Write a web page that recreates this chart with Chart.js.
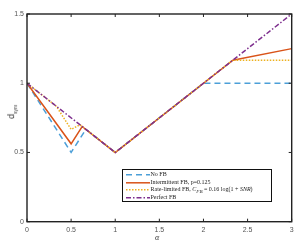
<!DOCTYPE html>
<html><head><meta charset="utf-8">
<script src="https://cdn.jsdelivr.net/npm/chart.js@4"></script>
<style>
html,body{margin:0;padding:0;background:#fff;}
#wrap{position:relative;width:302px;height:245px;}
canvas{position:absolute;left:0;top:0;}
#ylab{position:absolute;left:2px;top:106px;transform:rotate(-90deg);transform-origin:center;font:9px "Liberation Sans",Arial,sans-serif;color:#333;width:20px;text-align:center;}
#ylab sub{font-size:5px;}
#xlab{position:absolute;left:155px;top:233px;font:8px "Liberation Serif",serif;color:#333;font-style:italic;}
#legend{position:absolute;left:121.5px;top:169px;width:150px;height:33px;border:1.3px solid #111;background:#fff;font:6px "Liberation Serif","DejaVu Serif",serif;color:#222;box-sizing:border-box;padding-top:1px;}
#legend .row{height:7.6px;line-height:7.6px;white-space:nowrap;position:relative;}
#legend svg{position:absolute;left:2px;top:0;}
#legend span{position:absolute;left:28px;top:0;}
</style></head>
<body><div id="wrap"><canvas id="c" width="302" height="245"></canvas>
<div id="ylab">d<sub>sym</sub></div>
<div id="xlab">α</div>
<div id="legend"></div>
</div>
<script>
const xTicks = [0, 0.5, 1, 1.5, 2, 2.5, 3];
const yTicks = [0, 0.5, 1, 1.5];
const seriesNames = ["No FB", "Intermittent FB, p=0.125", "Rate-limited FB, <i>C<sub>FB</sub></i> = 0.16 log(1 + <i>SNR</i>)", "Perfect FB"];
const noFbX = [0, 0.5, 0.6667, 1, 2, 3];
const noFbY = [1, 0.5, 0.6667, 0.5, 1, 1];
const interX = [0, 0.5, 0.625, 1, 2, 2.333, 3];
const interY = [1, 0.5625, 0.6875, 0.5, 1, 1.1667, 1.25];
const rateX = [0, 0.333, 0.5, 0.6, 1, 2, 2.333, 3];
const rateY = [1, 0.8333, 0.6667, 0.7, 0.5, 1, 1.1667, 1.1667];
const perfX = [0, 1, 3];
const perfY = [1, 0.5, 1.5];
const colors = ["#4c9fd8", "#D95319", "#EDB120", "#7E2F8E"];
const dashes = [[6,4],[],[1.5,1.5],[5,2,1.5,2]];

function pts(xs, ys){ return xs.map((x,i)=>({x:x,y:ys[i]})); }
const dataSets = [pts(noFbX,noFbY), pts(interX,interY), pts(rateX,rateY), pts(perfX,perfY)];

const framePlugin = {
  id:'frame',
  afterDraw(chart){
    const ctx = chart.ctx, a = chart.chartArea, xs = chart.scales.x, ys = chart.scales.y;
    ctx.save();
    ctx.strokeStyle = '#222'; ctx.lineWidth = 1.4;
    ctx.strokeRect(a.left, a.top, a.right-a.left, a.bottom-a.top);
    ctx.lineWidth = 1;
    xTicks.forEach(v=>{
      const p = xs.getPixelForValue(v);
      ctx.beginPath(); ctx.moveTo(p,a.bottom); ctx.lineTo(p,a.bottom-3);
      ctx.moveTo(p,a.top); ctx.lineTo(p,a.top+3); ctx.stroke();
    });
    yTicks.forEach(v=>{
      const p = ys.getPixelForValue(v);
      ctx.beginPath(); ctx.moveTo(a.left,p); ctx.lineTo(a.left+3,p);
      ctx.moveTo(a.right,p); ctx.lineTo(a.right-3,p); ctx.stroke();
    });
    ctx.restore();
  }
};

new Chart(document.getElementById('c'), {
  type:'scatter',
  data:{datasets: dataSets.map((d,i)=>({
    label: seriesNames[i], data:d, showLine:true, borderColor:colors[i], backgroundColor:colors[i],
    borderWidth:1.5, borderDash:dashes[i], pointRadius:0, tension:0, fill:false, order: 3 - i
  }))},
  options:{
    responsive:false, animation:false, devicePixelRatio:1,
    layout:{padding:{top:14,right:10.3,left:0,bottom:0}},
    plugins:{legend:{display:false}, tooltip:{enabled:false}},
    scales:{
      x:{type:'linear', min:0, max:3,
        afterBuildTicks(s){ s.ticks = xTicks.map(v=>({value:v})); },
        afterFit(s){ s.height = 23.3; },
        grid:{display:false, drawTicks:false}, border:{display:false},
        ticks:{padding:4, color:'#555', font:{size:7, family:'"Liberation Sans", Arial, sans-serif'}, maxRotation:0,
          callback:v=>String(v)}},
      y:{type:'linear', min:0, max:1.5,
        afterBuildTicks(s){ s.ticks = yTicks.map(v=>({value:v})); },
        afterFit(s){ s.width = 27; },
        grid:{display:false, drawTicks:false}, border:{display:false},
        ticks:{padding:3, color:'#555', font:{size:7, family:'"Liberation Sans", Arial, sans-serif'},
          callback:v=>String(v)}}
    }
  },
  plugins:[framePlugin]
});

const leg = document.getElementById('legend');
seriesNames.forEach((n,i)=>{
  const row = document.createElement('div'); row.className='row';
  const da = dashes[i].length ? dashes[i].join(',') : 'none';
  row.innerHTML = '<svg width="26" height="7.6"><line x1="1" y1="3.8" x2="25" y2="3.8" stroke="'+colors[i]+'" stroke-width="1.5" stroke-dasharray="'+da+'"/></svg><span>'+n+'</span>';
  leg.appendChild(row);
});
</script>
</body></html>
